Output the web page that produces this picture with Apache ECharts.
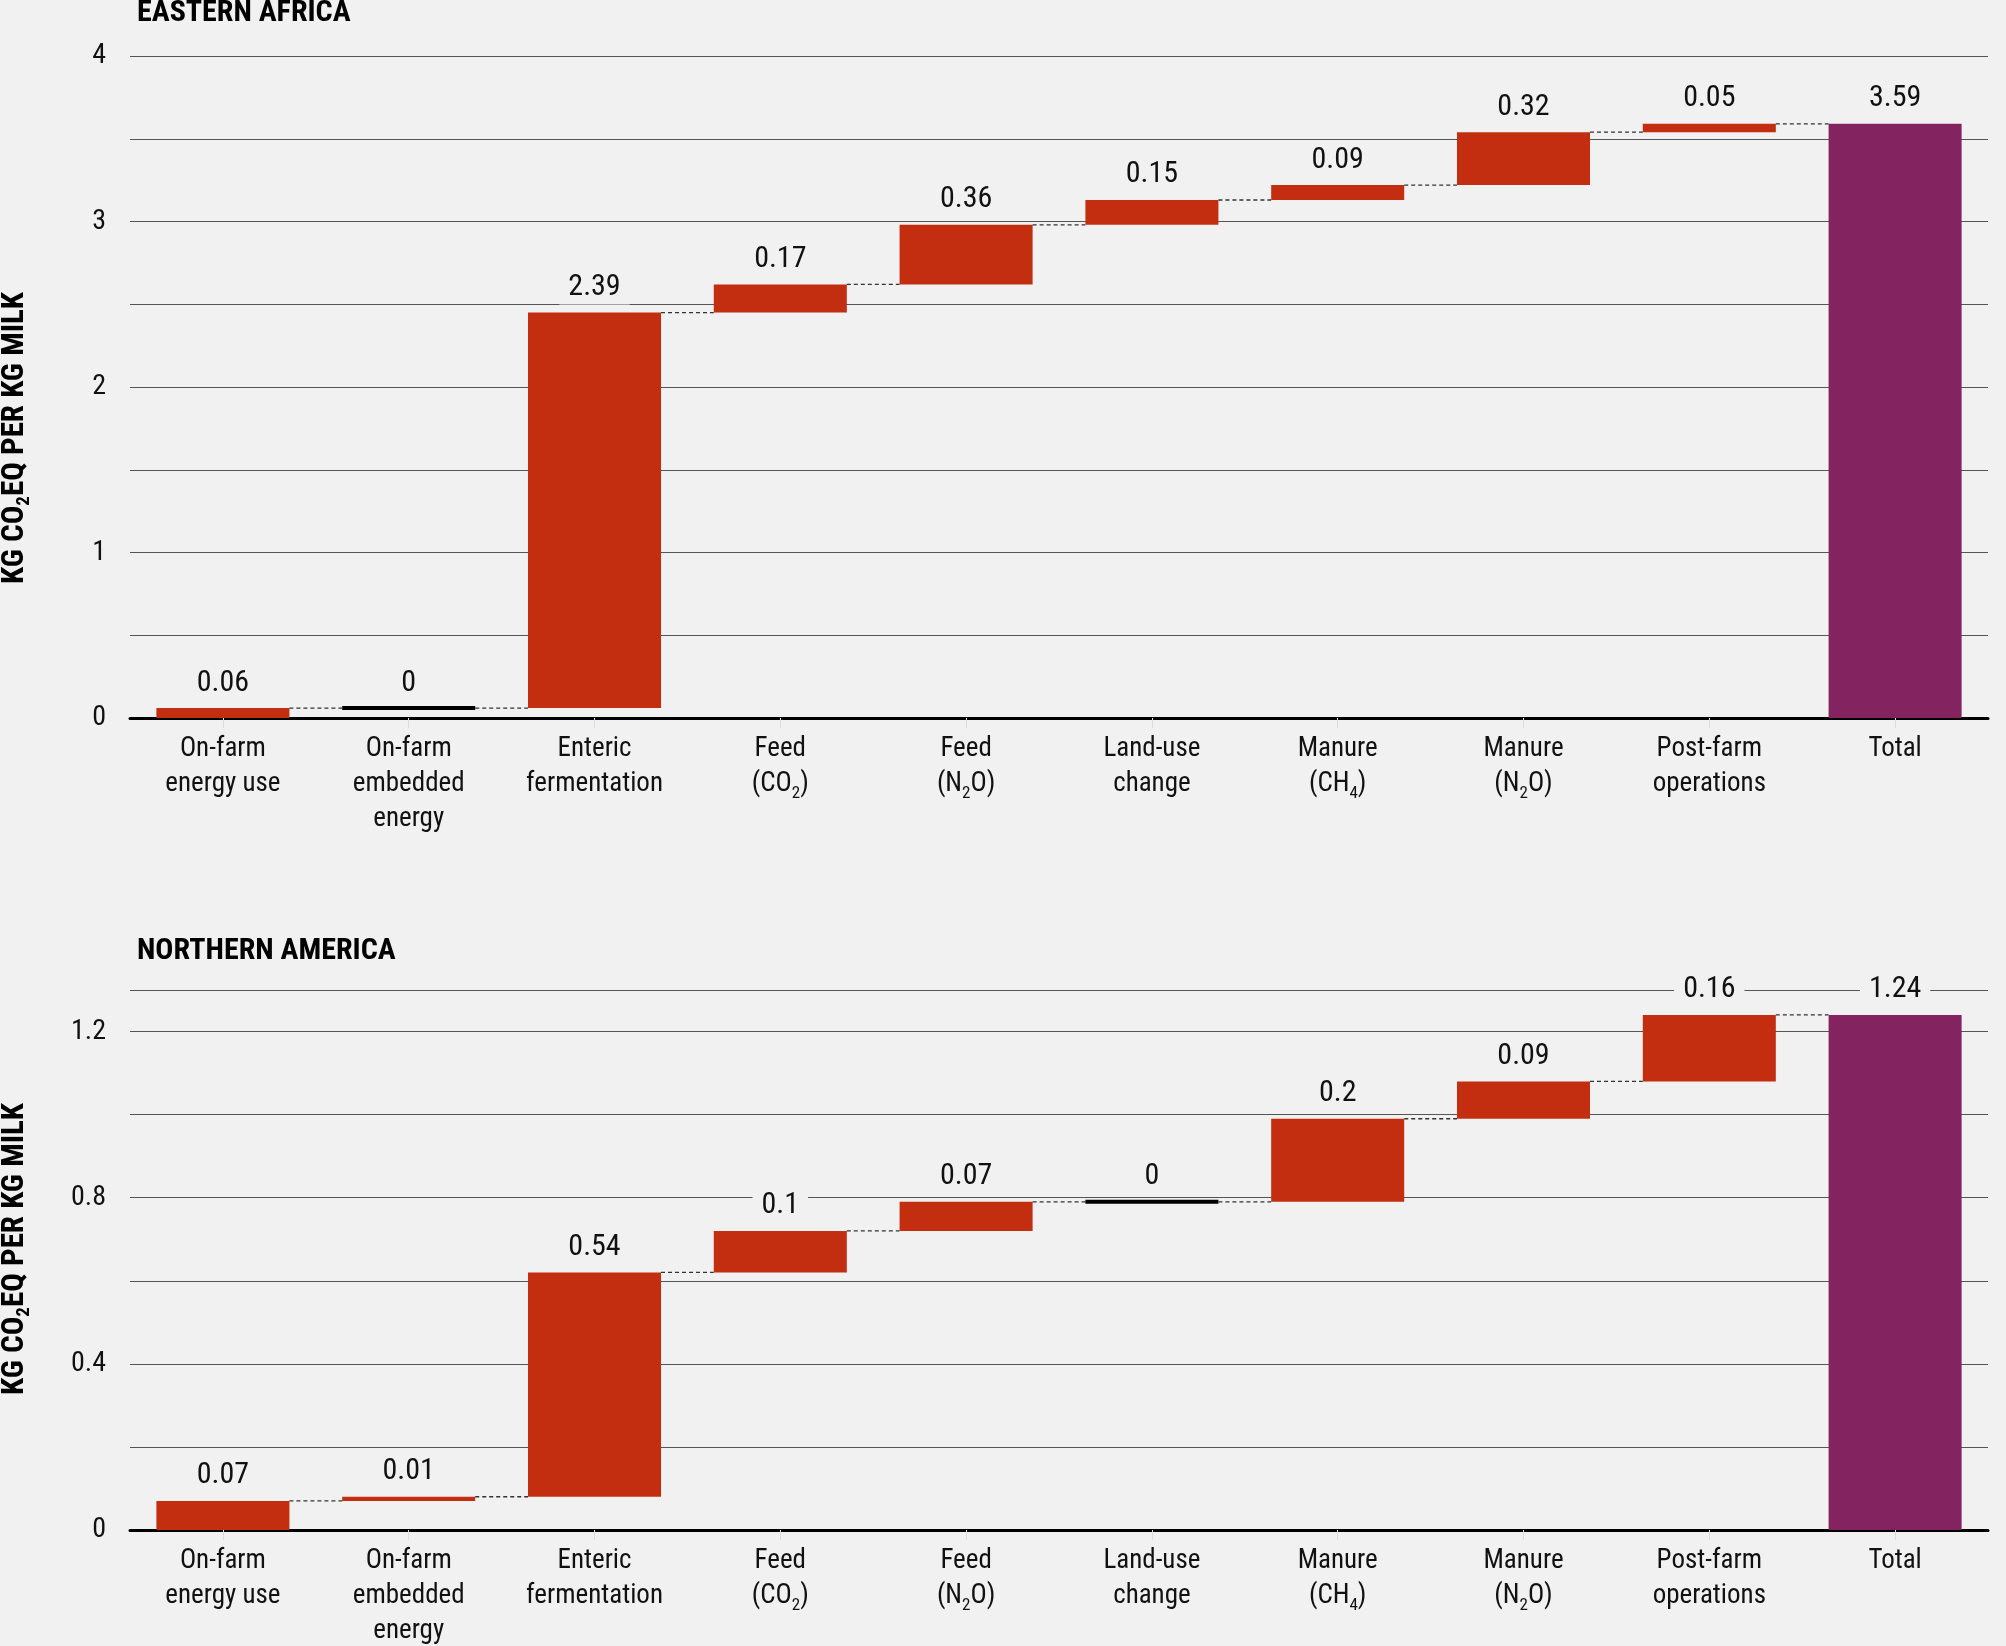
<!DOCTYPE html>
<html>
<head>
<meta charset="utf-8">
<script src="https://cdn.jsdelivr.net/npm/echarts@6/dist/echarts.min.js"></script>
<style>
html,body{margin:0;padding:0;background:#f1f1f1;}
#c{width:2006px;height:1646px;}
</style>
</head>
<body>
<div id="c"></div>
<script>
// ---- data ----
const categories = ['On-farm\nenergy use', 'On-farm\nembedded\nenergy', 'Enteric\nfermentation', 'Feed\n(CO_2)', 'Feed\n(N_2O)', 'Land-use\nchange', 'Manure\n(CH_4)', 'Manure\n(N_2O)', 'Post-farm\noperations', 'Total'];
const eaValues = [0.06, 0, 2.39, 0.17, 0.36, 0.15, 0.09, 0.32, 0.05, 3.59];
const naValues = [0.07, 0.01, 0.54, 0.1, 0.07, 0, 0.2, 0.09, 0.16, 1.24];
const eaTicks = [0, 1, 2, 3, 4];
const naTicks = [0, 0.4, 0.8, 1.2];
const titles = ['EASTERN AFRICA', 'NORTHERN AMERICA'];

// ---- styles ----
const FONT = "'Liberation Sans Narrow', 'Arial Narrow', 'Roboto Condensed', 'Noto Sans Condensed', 'Open Sans Condensed', 'DejaVu Sans Condensed', sans-serif";
const BG = '#f1f1f1';
const RED = '#c22e0f';
const PURPLE = '#832461';
const TXT = '#111';

function waterfall(values) {
  const out = [];
  let cum = 0;
  const n = values.length;
  values.forEach((v, i) => {
    if (i === n - 1) {
      out.push([i, 0, v, v]);
    } else {
      const s = cum;
      cum = +(cum + v).toFixed(4);
      out.push([i, s, cum, v]);
    }
  });
  return out;
}

function makeRender(n) {
  return function (params, api) {
    const i = api.value(0), s = api.value(1), e = api.value(2), v = api.value(3);
    const band = api.size([1, 0])[0];
    const bw = band * 0.716;
    const top = api.coord([i, e]);
    const bot = api.coord([i, s]);
    const x0 = top[0] - bw / 2;
    const children = [];
    if (v === 0) {
      children.push({type: 'line', shape: {x1: x0, y1: top[1], x2: x0 + bw, y2: top[1]},
        style: {stroke: '#000', lineWidth: 4}});
    } else {
      children.push({type: 'rect', shape: {x: x0, y: top[1], width: bw, height: bot[1] - top[1]},
        style: {fill: i === n - 1 ? PURPLE : RED}});
    }
    if (i < n - 1) {
      const nx = api.coord([i + 1, e])[0] - bw / 2;
      children.push({type: 'line', shape: {x1: x0 + bw, y1: top[1], x2: nx, y2: top[1]},
        style: {stroke: '#333', lineWidth: 1.3, lineDash: [4, 3]}});
    }
    children.push({type: 'text', x: top[0], y: top[1] - 25, z2: 10,
      style: {text: String(v), fill: TXT, font: '30px ' + FONT, align: 'center', verticalAlign: 'middle',
        backgroundColor: BG, padding: [2, 9]}});
    return {type: 'group', children};
  };
}

function catFormatter(val) {
  return val.split('\n').map(line => {
    const m = line.match(/^(.*)_(\d)(.*)$/);
    if (m) return '{a|' + m[1] + '}{s|' + m[2] + '}{a|' + m[3] + '}';
    return '{a|' + line + '}';
  }).join('\n');
}

const chart = echarts.init(document.getElementById('c'), null, {renderer: 'canvas'});

const grids = [
  {left: 130, right: 18, top: 56, height: 662},
  {left: 130, right: 18, top: 990, height: 540}
];

function xAxis(gi) {
  return {
    type: 'category', gridIndex: gi, data: categories,
    axisLine: {lineStyle: {color: '#000', width: 3}},
    axisTick: {show: true, alignWithLabel: true, length: 10, lineStyle: {color: '#dcdcdc'}},
    axisLabel: {
      interval: 0, margin: 14, formatter: catFormatter, color: TXT,
      rich: {
        a: {fontSize: 27, lineHeight: 35, fontFamily: FONT, color: TXT},
        s: {fontSize: 17, lineHeight: 20, fontFamily: FONT, color: TXT, verticalAlign: 'bottom'}
      }
    }
  };
}

function isTick(v, ticks) {
  return ticks.some(t => Math.abs(t - v) < 1e-6);
}

function yAxis(gi, max, interval, ticks) {
  return {
    type: 'value', gridIndex: gi, min: 0, max: max, interval: interval,
    axisLine: {show: false}, axisTick: {show: false},
    splitLine: {lineStyle: {color: '#555', width: 1.2}},
    axisLabel: {
      margin: 24, color: TXT, fontSize: 28, fontFamily: FONT,
      formatter: v => isTick(v, ticks) ? String(+v.toFixed(2)) : ''
    }
  };
}

function yTitle(x, y) {
  return {
    type: 'text', x: x, y: y, rotation: Math.PI / 2, z: 100,
    style: {
      text: '{b|KG CO}{s|2}{b|EQ PER KG MILK}', align: 'center', verticalAlign: 'middle',
      rich: {
        b: {fontSize: 31, fontWeight: 'bold', fontFamily: FONT, fill: '#000', lineHeight: 38},
        s: {fontSize: 19, fontWeight: 'bold', fontFamily: FONT, fill: '#000', lineHeight: 20, verticalAlign: 'bottom'}
      }
    }
  };
}

function titleText(t, y) {
  return {type: 'text', x: 137, y: y, z: 100,
    style: {text: t, font: 'bold 30px ' + FONT, fill: '#000', align: 'left', verticalAlign: 'middle'}};
}

const option = {
  backgroundColor: BG,
  animation: false,
  grid: grids,
  xAxis: [xAxis(0), xAxis(1)],
  yAxis: [yAxis(0, 4, 0.5, eaTicks), yAxis(1, 1.3, 0.2, naTicks)],
  graphic: [
    titleText(titles[0], 13),
    titleText(titles[1], 951),
    yTitle(15, 438),
    yTitle(15, 1249)
  ],
  series: [
    {type: 'custom', xAxisIndex: 0, yAxisIndex: 0, renderItem: makeRender(eaValues.length),
      data: waterfall(eaValues), encode: {x: 0, y: [1, 2]}, clip: false, z: 5},
    {type: 'custom', xAxisIndex: 1, yAxisIndex: 1, renderItem: makeRender(naValues.length),
      data: waterfall(naValues), encode: {x: 0, y: [1, 2]}, clip: false, z: 5}
  ]
};
chart.setOption(option);
</script>
</body>
</html>
